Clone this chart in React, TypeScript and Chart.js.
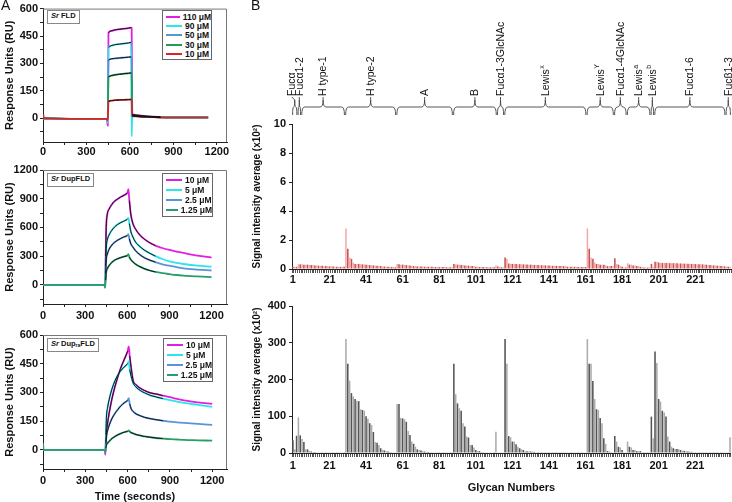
import React, { useEffect, useRef } from 'react';
import { Chart, registerables } from 'chart.js';
Chart.register(...registerables);

const FONT = "'Liberation Sans', Arial, sans-serif";

// ---------- Panel A data ----------
const T_FLD = [0, 3, 6, 100, 200, 300, 400, 435, 442, 447, 452, 470, 500, 530, 560, 590, 608, 612, 616, 625, 650, 680, 720, 760, 810, 900, 1000, 1140];
const FLD_110 = [0, 0, 0, -2, -3, -3, -3, -4, -10, -40, 468, 478, 484, 487, 490, 493, 496, 495, 22, 20, 17, 14, 11, 9, 7, 6, 6, 6];
const FLD_90 = [0, 0, 0, -2, -3, -3, -3, -4, -8, -25, 388, 397, 403, 406, 409, 412, 415, -100, 18, 17, 14, 12, 10, 8, 7, 6, 6, 6];
const FLD_50 = [0, 0, 0, -2, -3, -3, -3, -4, -8, -15, 318, 325, 328, 330, 332, 334, 336, 336, 16, 15, 13, 11, 9, 8, 6, 5, 5, 5];
const FLD_30 = [0, 0, 0, -2, -3, -3, -3, -4, -6, -10, 225, 233, 238, 241, 244, 246, 248, 248, 14, 13, 11, 9, 8, 7, 5, 4, 4, 4];
const FLD_10 = [0, 18, 0, -2, -3, -3, -3, -4, -5, -8, 92, 96, 99, 100, 101, 102, 103, 103, 12, 11, 10, 8, 7, 6, 4, 3, 3, 3];

const T_DUP = [0, 5, 100, 200, 300, 400, 430, 438, 442, 446, 450, 458, 470, 490, 510, 530, 550, 575, 600, 608, 615, 625, 640, 660, 690, 720, 760, 800, 850, 900, 950, 1000, 1100, 1200];
const DUP_10 = [0, 0, 0, 0, 0, 0, 0, -5, -20, 300, 600, 740, 790, 840, 875, 895, 915, 935, 960, 1000, 880, 740, 640, 580, 520, 480, 440, 410, 385, 365, 348, 333, 305, 285];
const DUP_5 = [0, 0, 0, 0, 0, 0, 0, -3, -10, 200, 380, 470, 520, 570, 605, 630, 648, 665, 685, 700, 640, 560, 500, 445, 400, 365, 330, 300, 270, 245, 230, 218, 200, 190];
const DUP_25 = [0, 0, 0, 0, 0, 0, 0, -3, -10, 120, 260, 320, 370, 415, 445, 465, 482, 500, 515, 530, 480, 430, 395, 355, 315, 285, 258, 238, 215, 200, 185, 173, 160, 150];
const DUP_125 = [0, 0, 0, 0, 0, 0, 0, -5, -30, 50, 130, 170, 200, 235, 258, 272, 283, 295, 305, 320, 290, 265, 240, 215, 190, 170, 150, 135, 122, 112, 103, 97, 88, 80];

const RA_10 = [0, 0, 0, 0, 0, 0, 0, -5, -25, 40, 90, 140, 195, 270, 330, 380, 425, 470, 515, 540, 490, 430, 360, 340, 322, 310, 298, 292, 283, 275, 266, 258, 248, 240];
const RA_5 = [0, 0, 0, 0, 0, 0, 0, -3, -10, 80, 170, 220, 265, 320, 360, 390, 412, 432, 450, 462, 420, 385, 348, 328, 310, 298, 285, 277, 268, 260, 252, 245, 235, 225];
const RA_25 = [0, 0, 0, 0, 0, 0, 0, -3, -8, 30, 70, 100, 130, 165, 190, 210, 228, 245, 258, 270, 240, 215, 200, 188, 178, 170, 163, 158, 152, 148, 144, 141, 136, 130];
const RA_125 = [35, 0, 0, 0, 0, 0, 0, -3, -10, 10, 25, 35, 45, 60, 70, 78, 85, 92, 97, 102, 95, 90, 86, 80, 75, 70, 66, 62, 59, 56, 54, 52, 50, 48];

const LEG_FLD = ['110 μM', '90 μM', '50 μM', '30 μM', '10 μM'];
const LEG_DUP = ['10 μM', '5 μM', '2.5 μM', '1.25 μM'];

const X_TICKS_A = [0, 150, 300, 450, 600, 750, 900, 1050, 1200];
const Y_TICKS_FLD = [-75, 0, 75, 150, 225, 300, 375, 450, 525, 600];
const Y_TICKS_DUP = [-150, 0, 150, 300, 450, 600, 750, 900, 1050, 1200];
const Y_TICKS_RA = [-75, 0, 75, 150, 225, 300, 375, 450, 525, 600];

// ---------- Panel B data (x10^2) ----------
const PINK = [
  0.15, 0.15, 0.15, 0.32, 0.32, 0.32, 0.3, 0.3, 0.3, 0.28, 0.28, 0.27, 0.25, 0.25, 0.23, 0.22, 0.22, 0.2, 0.2, 0.2,
  0.18, 0.18, 0.17, 0.16, 0.16, 0.15, 0.15, 0.15, 0.15, 2.8, 1.4, 0.8, 0.7, 0.45, 0.35, 0.35, 0.35, 0.33, 0.32, 0.32,
  0.3, 0.3, 0.27, 0.25, 0.25, 0.23, 0.22, 0.2, 0.2, 0.18, 0.17, 0.16, 0.15, 0.15, 0.14, 0.13, 0.12, 0.35, 0.32, 0.3,
  0.3, 0.28, 0.27, 0.25, 0.25, 0.22, 0.2, 0.2, 0.18, 0.18, 0.17, 0.17, 0.16, 0.16, 0.15, 0.15, 0.15, 0.14, 0.14, 0.14,
  0.13, 0.13, 0.13, 0.13, 0.12, 0.12, 0.12, 0.12, 0.35, 0.32, 0.3, 0.3, 0.28, 0.27, 0.25, 0.25, 0.23, 0.22, 0.2, 0.2,
  0.15, 0.15, 0.14, 0.14, 0.13, 0.13, 0.12, 0.12, 0.12, 0.12, 0.12, 0.25, 0.18, 0.15, 0.12, 0.12, 0.8, 0.7, 0.38, 0.36,
  0.35, 0.35, 0.34, 0.33, 0.33, 0.32, 0.32, 0.31, 0.31, 0.3, 0.3, 0.29, 0.28, 0.28, 0.27, 0.26, 0.26, 0.25, 0.25, 0.24,
  0.24, 0.23, 0.22, 0.22, 0.21, 0.21, 0.2, 0.2, 0.2, 0.2, 0.16, 0.15, 0.15, 0.15, 0.15, 0.15, 0.14, 0.14, 0.14, 0.14,
  0.14, 2.8, 1.4, 0.8, 0.7, 0.45, 0.35, 0.35, 0.3, 0.3, 0.3, 0.25, 0.2, 0.2, 0.2, 0.2, 0.75, 0.35, 0.3, 0.2,
  0.15, 0.1, 0.1, 0.4, 0.3, 0.3, 0.25, 0.25, 0.2, 0.2, 0.15, 0.12, 0.1, 0.1, 0.1, 0.1, 0.35, 0.15, 0.5, 0.5,
  0.45, 0.42, 0.42, 0.42, 0.41, 0.41, 0.4, 0.4, 0.4, 0.39, 0.39, 0.38, 0.38, 0.37, 0.37, 0.36, 0.36, 0.35, 0.35, 0.34,
  0.34, 0.33, 0.33, 0.32, 0.32, 0.3, 0.3, 0.28, 0.27, 0.26, 0.25, 0.24, 0.23, 0.22, 0.2, 0.2, 0.18, 0.17, 0.16, 0.15,
];
const GREY = [
  35, 10, 47, 97, 48, 38, 30, 10, 10, 6, 4, 3, 3, 2, 1, 1, 1, 1, 1, 1,
  1, 1, 1, 1, 1, 1, 1, 1, 1, 310, 243, 197, 163, 154, 147, 142, 141, 119, 117, 115,
  100, 93, 81, 76, 57, 30, 28, 22, 13, 9, 7, 5, 4, 3, 2, 1, 1, 133, 133, 95,
  94, 92, 85, 60, 49, 31, 25, 17, 10, 8, 7, 5, 4, 3, 3, 1, 1, 1, 1, 1,
  1, 1, 1, 1, 1, 1, 1, 1, 243, 160, 135, 122, 115, 81, 72, 45, 42, 22, 22, 15,
  8, 5, 5, 3, 2, 1, 1, 1, 1, 1, 1, 58, 1, 1, 1, 1, 310, 243, 46, 43,
  31, 31, 24, 17, 13, 10, 8, 5, 5, 4, 4, 4, 3, 2, 2, 2, 2, 2, 2, 2,
  2, 2, 2, 2, 2, 2, 2, 2, 2, 2, 1, 1, 1, 1, 1, 1, 1, 1, 1, 1,
  1, 310, 243, 243, 196, 147, 119, 117, 95, 81, 40, 25, 5, 5, 2, 1, 46, 31, 17, 15,
  8, 2, 1, 31, 17, 15, 8, 8, 5, 5, 5, 2, 2, 2, 2, 2, 99, 40, 276, 245,
  147, 140, 115, 110, 99, 45, 31, 17, 13, 11, 11, 10, 8, 6, 6, 5, 4, 4, 3, 2,
  2, 2, 2, 2, 2, 2, 2, 2, 2, 2, 2, 2, 2, 2, 2, 1, 1, 1, 1, 43,
];
const GLYCAN_IDS = PINK.map((_, i) => String(i + 1));
const X_TICK_LABELS = ['1', '21', '41', '61', '81', '101', '121', '141', '161', '181', '201', '221'];

const GROUP_NAMES = ['Fucα', 'Fucα1-2', 'H type-1', 'H type-2', 'A', 'B', 'Fucα1-3GlcNAc', 'Lewis', 'Lewis', 'Fucα1-4GlcNAc', 'Lewis', 'Lewis', 'Fucα1-6', 'Fucβ1-3'];
const GROUP_SUPS = ['', '', '', '', '', '', '', 'x', 'Y', '', 'a', 'b', '', ''];
const GROUP_START = [1, 4, 6, 30, 58, 89, 113, 117, 162, 177, 184, 197, 199, 238];
const GROUP_END = [3, 5, 29, 57, 88, 112, 116, 161, 176, 183, 196, 198, 237, 240];

// ---------- helpers ----------
const tickFont = { family: FONT, size: 11, weight: 'bold' as const };

const framePlugin = {
  id: 'frame',
  afterDraw(chart: any) {
    const { ctx, chartArea: a } = chart;
    ctx.save();
    ctx.strokeStyle = '#777';
    ctx.lineWidth = 1;
    ctx.beginPath();
    ctx.moveTo(a.left, a.top + 0.5);
    ctx.lineTo(a.right - 0.5, a.top + 0.5);
    ctx.lineTo(a.right - 0.5, a.bottom);
    ctx.stroke();
    ctx.restore();
  },
};

function sprConfig(o: any) {
  const inFit = (t: number) => (t >= o.fitA[0] && t <= o.fitA[1]) || (t >= o.fitD[0] && t <= o.fitD[1]);
  const fits = o.series.map((vals: number[]) => ({
    data: o.times.map((t: number, i: number) => ({ x: t, y: inFit(t) ? vals[i] : null })),
    borderColor: '#151515', borderWidth: 1, pointRadius: 0, spanGaps: false, cubicInterpolationMode: 'monotone',
  }));
  const cols = o.series.map((vals: number[], k: number) => ({
    data: o.times.map((t: number, i: number) => ({ x: t, y: vals[i] })),
    borderColor: o.colors[k], borderWidth: 1.8, pointRadius: 0, cubicInterpolationMode: 'monotone',
  })).reverse();
  return {
    type: 'line',
    data: { datasets: [...fits, ...cols] },
    options: {
      animation: false, responsive: false, devicePixelRatio: 1,
      layout: { padding: { top: o.padTop, right: o.padRight, left: 0, bottom: 0 } },
      plugins: { legend: { display: false }, tooltip: { enabled: false } },
      scales: {
        x: {
          type: 'linear', min: 0, max: o.xMax,
          afterBuildTicks: (s: any) => { s.ticks = X_TICKS_A.map((v) => ({ value: v })); },
          afterFit: (s: any) => { s.height = o.xHeight; },
          ticks: { autoSkip: false, font: tickFont, color: '#111', padding: o.xPad, maxRotation: 0, callback: (v: number) => (v % 300 === 0 ? String(v) : '') },
          grid: { drawOnChartArea: false, tickLength: 3, color: '#222' },
          border: { color: '#222', width: 1 },
          title: o.xTitle ? { display: true, text: o.xTitle, font: { family: FONT, size: 11, weight: 'bold', lineHeight: 1 }, color: '#111', padding: { top: 0, bottom: 0 } } : { display: false },
        },
        y: {
          min: o.yMin, max: o.yMax,
          afterBuildTicks: (s: any) => { s.ticks = o.yTicks.map((v: number) => ({ value: v })); },
          afterFit: (s: any) => { s.width = 43; },
          ticks: { autoSkip: false, font: tickFont, color: '#111', padding: 2, callback: (v: number) => (v >= 0 && v % o.yStep === 0 ? String(v) : '') },
          grid: { drawOnChartArea: false, tickLength: 3, color: '#222' },
          border: { color: '#222', width: 1 },
          title: { display: true, text: 'Response Units (RU)', font: { family: FONT, size: 11, weight: 'bold' }, color: '#111', padding: { top: 3, bottom: 0 } },
        },
      },
    },
    plugins: [framePlugin],
  };
}

const bracketPlugin = {
  id: 'brackets',
  afterDraw(chart: any) {
    const { ctx } = chart;
    const x = chart.scales.x;
    const step = x.getPixelForValue(1) - x.getPixelForValue(0);
    const yLine = 107, yEnd = 115, yApex = 100, yText = 96;
    ctx.save();
    ctx.strokeStyle = '#444';
    ctx.fillStyle = '#111';
    ctx.lineWidth = 0.9;
    const apexes: number[] = [];
    GROUP_START.forEach((s, i) => {
      const x0 = x.getPixelForValue(s - 1) - step / 2 + 0.6;
      const x1 = x.getPixelForValue(GROUP_END[i] - 1) + step / 2 - 0.6;
      const xm = (x0 + x1) / 2;
      apexes.push(xm);
      const r = Math.min(3, (x1 - x0) / 4);
      ctx.beginPath();
      ctx.moveTo(x0, yEnd);
      ctx.quadraticCurveTo(x0, yLine, x0 + r, yLine);
      ctx.lineTo(xm - r, yLine);
      ctx.quadraticCurveTo(xm, yLine, xm, yApex);
      ctx.quadraticCurveTo(xm, yLine, xm + r, yLine);
      ctx.lineTo(x1 - r, yLine);
      ctx.quadraticCurveTo(x1, yLine, x1, yEnd);
      ctx.stroke();
    });
    const tx = apexes.slice();
    for (let i = tx.length - 1; i > 0; i--) {
      if (tx[i] - tx[i - 1] < 7.5) tx[i - 1] = tx[i] - 7.5;
    }
    GROUP_NAMES.forEach((name, i) => {
      ctx.beginPath();
      ctx.moveTo(apexes[i], yApex);
      ctx.lineTo(tx[i], yText + 1);
      ctx.stroke();
      ctx.save();
      ctx.translate(tx[i], yText);
      ctx.rotate(-Math.PI / 2);
      ctx.textAlign = 'left';
      ctx.textBaseline = 'middle';
      ctx.font = `10.5px ${FONT}`;
      ctx.fillText(name, 0, 0.5);
      if (GROUP_SUPS[i]) {
        const w = ctx.measureText(name).width;
        ctx.font = `7px ${FONT}`;
        ctx.fillText(GROUP_SUPS[i], w + 0.5, -3);
      }
      ctx.restore();
    });
    ctx.restore();
  },
};

function barConfig(o: any) {
  return {
    type: 'bar',
    data: {
      labels: GLYCAN_IDS,
      datasets: [{
        data: o.values,
        backgroundColor: (c: any) => (c.dataIndex % 2 ? o.light : o.dark),
        barPercentage: 0.85, categoryPercentage: 1,
      }],
    },
    options: {
      animation: false, responsive: false, devicePixelRatio: 1,
      layout: { padding: { top: o.padTop, right: 1, left: 0, bottom: 0 } },
      plugins: { legend: { display: false }, tooltip: { enabled: false } },
      scales: {
        x: {
          afterFit: (s: any) => { s.height = o.xHeight; },
          ticks: {
            autoSkip: false, maxRotation: 0, minRotation: 0, font: tickFont, color: '#111', padding: o.xPad,
            callback: (_v: any, i: number) => (X_TICK_LABELS.includes(GLYCAN_IDS[i]) ? GLYCAN_IDS[i] : ''),
          },
          grid: { offset: true, drawOnChartArea: false, tickLength: 4, color: '#555', lineWidth: 1 },
          border: { color: '#222', width: 1 },
          title: o.xTitle ? { display: true, text: o.xTitle, font: { family: FONT, size: 11, weight: 'bold' }, color: '#111', padding: { top: 0, bottom: 7 } } : { display: false },
        },
        y: {
          min: 0, max: o.yMax,
          afterFit: (s: any) => { s.width = 42; },
          ticks: { autoSkip: false, stepSize: o.yStep, font: tickFont, color: '#111', padding: 3 },
          grid: { drawOnChartArea: false, tickLength: 3, color: '#222' },
          border: { color: '#222', width: 1 },
          title: { display: true, text: 'Signal intensity average (x10²)', font: { family: FONT, size: 10, weight: 'bold' }, color: '#111', padding: { top: 1, bottom: 0 } },
        },
      },
    },
    plugins: o.plugins || [],
  };
}

function ChartBox({ left, top, width, height, make }: any) {
  const ref = useRef<HTMLCanvasElement>(null);
  useEffect(() => {
    const chart = new Chart(ref.current as HTMLCanvasElement, make() as any);
    return () => chart.destroy();
  }, []);
  return <canvas ref={ref} width={width} height={height} style={{ position: 'absolute', left, top, width, height }} />;
}

function Legend({ left, top, width, labels, colors, rowH }: any) {
  return (
    <div style={{ position: 'absolute', left, top, width, border: '1px solid #666', background: '#fff', padding: '1px 0 1px 3px', boxSizing: 'border-box', font: `bold 8.5px ${FONT}`, color: '#111' }}>
      {labels.map((l: string, i: number) => (
        <div key={i} style={{ display: 'flex', alignItems: 'center', height: rowH, whiteSpace: 'nowrap' }}>
          <span style={{ display: 'inline-block', width: 16, height: 2, background: colors[i], marginRight: 3 }} />
          {l}
        </div>
      ))}
    </div>
  );
}

function Tag({ left, top, children }: any) {
  return (
    <div style={{ position: 'absolute', left, top, border: '1px solid #888', padding: '0 3px', height: 12, lineHeight: '12px', font: `bold 7.5px ${FONT}`, color: '#111', background: '#fff', whiteSpace: 'nowrap' }}>
      {children}
    </div>
  );
}

const C_FLD = ['#e11fe0', '#2fe3ea', '#5b93da', '#1f9e58', '#d6262a'];
const C_DUP = ['#e11fe0', '#2fe3ea', '#5b93da', '#2a9d6c'];

export default function App() {
  return (
    <div style={{ position: 'fixed', left: 0, top: 0, width: 732, height: 502, background: '#fff', overflow: 'hidden' }}>
      <ChartBox left={0} top={0} width={232} height={160} make={() => sprConfig({
        times: T_FLD, series: [FLD_110, FLD_90, FLD_50, FLD_30, FLD_10], colors: C_FLD,
        fitA: [452, 608], fitD: [616, 810], xMax: 1270, yMin: -130, yMax: 600, yTicks: Y_TICKS_FLD, yStep: 150,
        padTop: 7, padRight: 5, xHeight: 18, xPad: 0,
      })} />
      <ChartBox left={0} top={160} width={232} height={160} make={() => sprConfig({
        times: T_DUP, series: [DUP_10, DUP_5, DUP_25, DUP_125], colors: C_DUP,
        fitA: [446, 600], fitD: [615, 800], xMax: 1310, yMin: -200, yMax: 1200, yTicks: Y_TICKS_DUP, yStep: 300,
        padTop: 10, padRight: 5, xHeight: 16, xPad: 2,
      })} />
      <ChartBox left={0} top={320} width={232} height={182} make={() => sprConfig({
        times: T_DUP, series: [RA_10, RA_5, RA_25, RA_125], colors: C_DUP,
        fitA: [446, 600], fitD: [615, 850], xMax: 1305, yMin: -100, yMax: 600, yTicks: Y_TICKS_RA, yStep: 150,
        padTop: 15, padRight: 5, xHeight: 33, xPad: 2, xTitle: 'Time (seconds)',
      })} />
      <ChartBox left={250} top={0} width={482} height={286} make={() => barConfig({
        values: PINK, dark: '#c9504f', light: '#f3a9a9', yMax: 10, yStep: 2, padTop: 124, xHeight: 17, xPad: 0,
        plugins: [bracketPlugin],
      })} />
      <ChartBox left={250} top={286} width={482} height={216} make={() => barConfig({
        values: GREY, dark: '#555', light: '#ababab', yMax: 400, yStep: 100, padTop: 20, xHeight: 49, xPad: 2,
        xTitle: 'Glycan Numbers',
      })} />

      <Legend left={162} top={10} width={50} labels={LEG_FLD} colors={C_FLD} rowH={9.3} />
      <Legend left={162} top={173} width={51} labels={LEG_DUP} colors={C_DUP} rowH={10} />
      <Legend left={163} top={338} width={50} labels={LEG_DUP} colors={C_DUP} rowH={10} />

      <Tag left={47} top={10}><i>Sr</i> FLD</Tag>
      <Tag left={47} top={173}><i>Sr</i> DupFLD</Tag>
      <Tag left={47} top={338}><i>Sr</i> Dup<sub style={{ fontSize: 5, verticalAlign: -1 }}>ra</sub>FLD</Tag>

      <div style={{ position: 'absolute', left: 1, top: -3, font: `14px ${FONT}`, color: '#111' }}>A</div>
      <div style={{ position: 'absolute', left: 251, top: -3, font: `14px ${FONT}`, color: '#111' }}>B</div>
    </div>
  );
}
